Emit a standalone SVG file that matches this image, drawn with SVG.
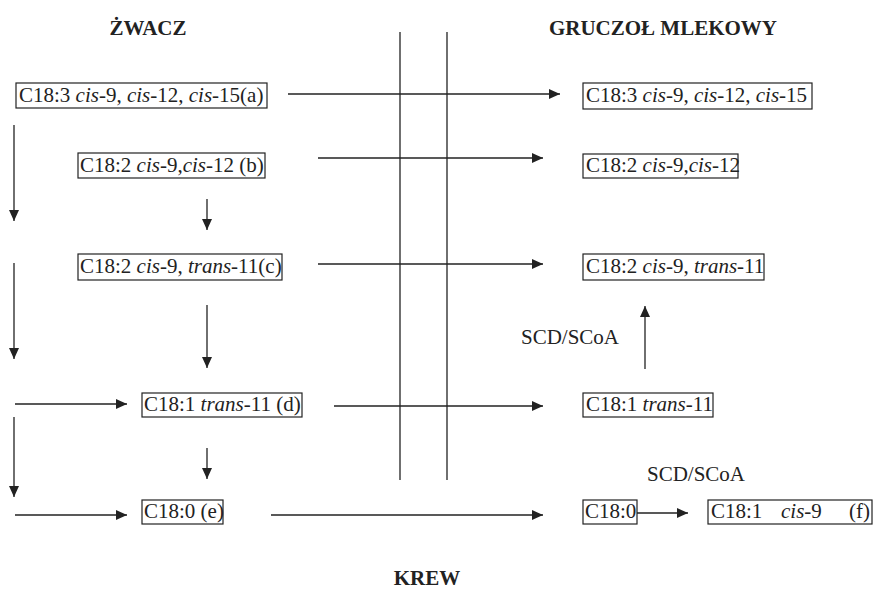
<svg xmlns="http://www.w3.org/2000/svg" width="874" height="590" viewBox="0 0 874 590" font-family="'Liberation Serif', 'DejaVu Serif', serif">
<style>
text{font-family:'Liberation Serif','DejaVu Serif',serif;font-size:21px;fill:#222}
.t{font-weight:bold}
.i{font-style:italic}
.box{fill:none;stroke:#222;stroke-width:1.2}
.ln{stroke:#222;stroke-width:1.3;fill:none}
.ar{stroke:#222;stroke-width:1.3;fill:none;marker-end:url(#ah)}
</style>
<defs>
<marker id="ah" markerUnits="userSpaceOnUse" markerWidth="12" markerHeight="10" refX="11" refY="5" orient="auto">
<path d="M0,0 L11,5 L0,10 Z" fill="#222"/>
</marker>
</defs>
<g id="titles">
<text class="t" x="148" y="35" text-anchor="middle">ŻWACZ</text>
<text class="t" x="663" y="35" text-anchor="middle">GRUCZOŁ MLEKOWY</text>
<text class="t" x="427" y="585" text-anchor="middle">KREW</text>
</g>
<g id="connectors">
<line class="ln" x1="400" y1="32" x2="400" y2="480"/>
<line class="ln" x1="447" y1="32" x2="447" y2="480"/>
<line class="ar" x1="288" y1="94" x2="560" y2="94"/>
<line class="ar" x1="318" y1="158" x2="543" y2="158"/>
<line class="ar" x1="318" y1="264" x2="543" y2="264"/>
<line class="ar" x1="334" y1="406" x2="543" y2="406"/>
<line class="ar" x1="271" y1="515" x2="543" y2="515"/>
<line class="ar" x1="14" y1="125" x2="14" y2="221"/>
<line class="ar" x1="14" y1="263" x2="14" y2="359"/>
<line class="ar" x1="14" y1="417" x2="14" y2="497"/>
<line class="ar" x1="15" y1="404" x2="127" y2="404"/>
<line class="ar" x1="15" y1="515" x2="127" y2="515"/>
<line class="ar" x1="207" y1="199" x2="207" y2="230"/>
<line class="ar" x1="207" y1="305" x2="207" y2="368"/>
<line class="ar" x1="207" y1="448" x2="207" y2="479"/>
<line class="ar" x1="645" y1="369" x2="645" y2="306"/>
<line class="ar" x1="637" y1="513" x2="688" y2="513"/>
<text x="521" y="344">SCD/SCoA</text>
<text x="647" y="481">SCD/SCoA</text>
</g>
<g id="node-a">
<rect class="box" x="16" y="83" width="251" height="25"/>
<text x="19" y="102">C18:3 <tspan class="i">cis</tspan>-9, <tspan class="i">cis</tspan>-12, <tspan class="i">cis</tspan>-15(a)</text>
</g>
<g id="node-b">
<rect class="box" x="78" y="153" width="187" height="25"/>
<text x="80" y="172">C18:2 <tspan class="i">cis</tspan>-9,<tspan class="i">cis</tspan>-12 (b)</text>
</g>
<g id="node-c">
<rect class="box" x="78" y="254" width="204" height="26"/>
<text x="80" y="273">C18:2 <tspan class="i">cis</tspan>-9, <tspan class="i">trans</tspan>-11(c)</text>
</g>
<g id="node-d">
<rect class="box" x="142" y="393" width="160" height="24"/>
<text x="144" y="411">C18:1 <tspan class="i">trans</tspan>-11 (d)</text>
</g>
<g id="node-e">
<rect class="box" x="142" y="500" width="81" height="24"/>
<text x="144" y="518">C18:0 (e)</text>
</g>
<g id="node-a2">
<rect class="box" x="583" y="83" width="229" height="26"/>
<text x="586" y="102">C18:3 <tspan class="i">cis</tspan>-9, <tspan class="i">cis</tspan>-12, <tspan class="i">cis</tspan>-15</text>
</g>
<g id="node-b2">
<rect class="box" x="583" y="154" width="155" height="24"/>
<text x="586" y="172">C18:2 <tspan class="i">cis</tspan>-9,<tspan class="i">cis</tspan>-12</text>
</g>
<g id="node-c2">
<rect class="box" x="583" y="254" width="181" height="26"/>
<text x="586" y="273">C18:2 <tspan class="i">cis</tspan>-9, <tspan class="i">trans</tspan>-11</text>
</g>
<g id="node-d2">
<rect class="box" x="583" y="393" width="130" height="24"/>
<text x="586" y="411">C18:1 <tspan class="i">trans</tspan>-11</text>
</g>
<g id="node-e2">
<rect class="box" x="583" y="500" width="54" height="24"/>
<text x="585" y="518">C18:0</text>
</g>
<g id="node-f">
<rect class="box" x="708" y="500" width="164" height="24"/>
<text y="518"><tspan x="711">C18:1</tspan><tspan x="781" class="i">cis</tspan>-9<tspan x="849">(f)</tspan></text>
</g>
</svg>
